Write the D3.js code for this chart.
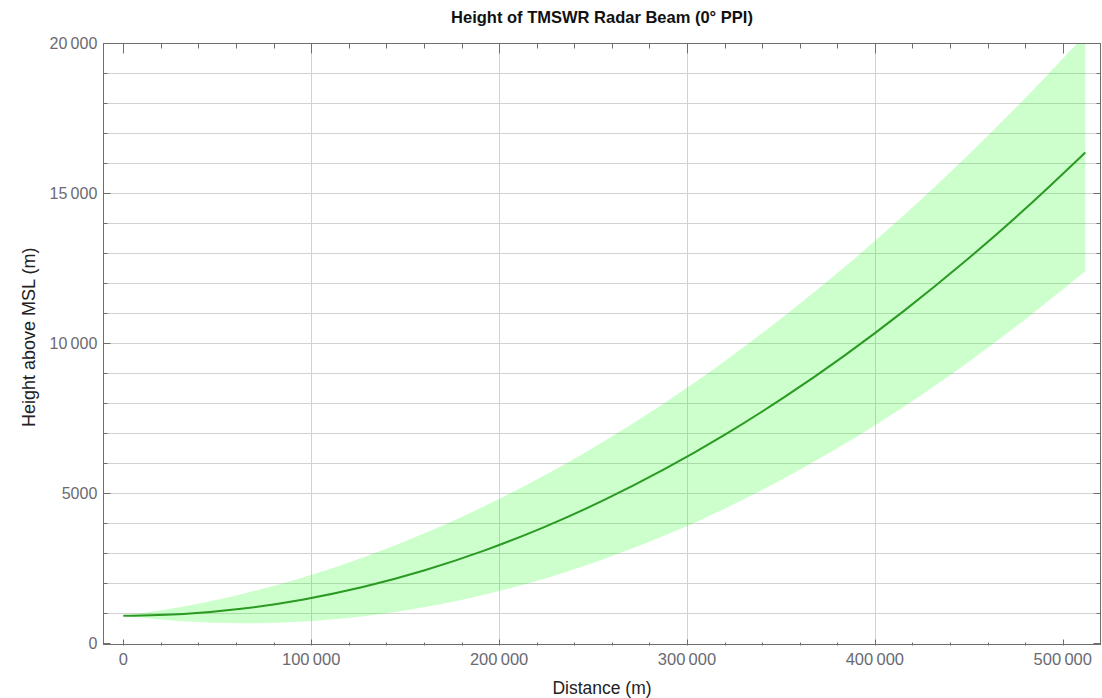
<!DOCTYPE html>
<html>
<head>
<meta charset="utf-8">
<script src="https://cdn.jsdelivr.net/npm/d3@7/dist/d3.min.js"></script>
<style>
  body { margin: 0; background: #fff; }
  svg { display: block; font-family: "Liberation Sans", Arial, sans-serif; }
</style>
</head>
<body>
<svg id="chart" width="1102" height="698"></svg>
<script>
// distance along the beam (m)
var distances = [0, 32000, 64000, 96000, 128000, 160000, 192000, 224000, 256000,
  288000, 320000, 352000, 384000, 416000, 448000, 480000, 512000];

// beam centre height (m)
var centreHeights = [920, 980, 1161, 1463, 1884, 2427, 3090, 3873, 4778,
  5802, 6947, 8213, 9599, 11106, 12734, 14482, 16360];

// top and bottom edge of the beam (m)
var upperHeights = [920, 1226, 1653, 2200, 2867, 3656, 4565, 5593, 6744,
  8014, 9405, 10916, 12548, 14301, 16175, 18168, 20290];
var lowerHeights = [920, 734, 669, 726, 901, 1198, 1615, 2153, 2812,
  3590, 4489, 5510, 6650, 7911, 9293, 10796, 12400];

var xTicks = [0, 100000, 200000, 300000, 400000, 500000];
var yTicks = [0, 5000, 10000, 15000, 20000];

var beam = distances.map(function(d, i){
  return {r: d, mid: centreHeights[i], hi: upperHeights[i], lo: lowerHeights[i]};
});

var svg = d3.select("#chart");

// frame goes a little past the data on both ends, like the original
var x = d3.scaleLinear().domain([-10640, 520400]).range([103.3, 1101.1]);
var y = d3.scaleLinear().domain([-40, 20000]).range([644.5, 43.3]);

//note: "top" is taken by window.top, so use plot* names
var plotLeft = x.range()[0], plotRight = x.range()[1];
var plotTop = y.range()[1], plotBottom = y.range()[0];

//space digits in groups of three, "100 000", but leave 4 digit numbers alone
function groupDigits(v){
  var s = String(v);
  if (s.length < 5) return s;
  return s.replace(/\B(?=(\d{3})+(?!\d))/g, "\u2009");
}

svg.append("clipPath").attr("id", "plotclip")
  .append("rect")
  .attr("x", plotLeft).attr("y", plotTop)
  .attr("width", plotRight - plotLeft).attr("height", plotBottom - plotTop);

//grid lines
var grid = svg.append("g").attr("stroke", "#d2d2d2").attr("stroke-width", 1);

grid.selectAll(".hgrid")
  .data(d3.range(1000, 20000, 1000))
  .enter().append("line")
  .attr("x1", plotLeft).attr("x2", plotRight)
  .attr("y1", function(d){ return Math.round(y(d)) + 0.5; })
  .attr("y2", function(d){ return Math.round(y(d)) + 0.5; });

grid.selectAll(".vgrid")
  .data([100000, 200000, 300000, 400000])
  .enter().append("line")
  .attr("y1", plotTop).attr("y2", plotBottom)
  .attr("x1", function(d){ return Math.round(x(d)) + 0.5; })
  .attr("x2", function(d){ return Math.round(x(d)) + 0.5; });

//beam band and centre line
var plot = svg.append("g").attr("clip-path", "url(#plotclip)");

var band = d3.area()
  .x(function(d){ return x(d.r); })
  .y0(function(d){ return y(d.lo); })
  .y1(function(d){ return y(d.hi); })
  .curve(d3.curveCatmullRom);

plot.append("path")
  .datum(beam)
  .attr("d", band)
  .attr("fill", "#00ff00")
  .attr("fill-opacity", 0.2);

var centreLine = d3.line()
  .x(function(d){ return x(d.r); })
  .y(function(d){ return y(d.mid); })
  .curve(d3.curveCatmullRom);

plot.append("path")
  .datum(beam)
  .attr("d", centreLine)
  .attr("fill", "none")
  .attr("stroke", "#2a9a22")
  .attr("stroke-width", 2);

//frame with inward ticks
var frame = svg.append("g").attr("stroke", "#6e6e6e").attr("stroke-width", 1);

frame.append("rect")
  .attr("x", Math.round(plotLeft) + 0.5).attr("y", Math.round(plotTop) + 0.5)
  .attr("width", Math.round(plotRight - plotLeft) - 1)
  .attr("height", Math.round(plotBottom - plotTop))
  .attr("fill", "none");

var xMinor = d3.range(0, 520000, 20000);
var yMinor = d3.range(0, 20001, 1000);

function xTickLines(cls, yBase, dir){
  frame.selectAll("." + cls)
    .data(xMinor)
    .enter().append("line")
    .attr("class", cls)
    .attr("x1", function(d){ return Math.round(x(d)) + 0.5; })
    .attr("x2", function(d){ return Math.round(x(d)) + 0.5; })
    .attr("y1", yBase)
    .attr("y2", function(d){
      var len = (d % 100000 === 0) ? (dir > 0 ? 10 : 6) : (dir > 0 ? 5 : 3);
      return yBase + dir * len;
    });
}
xTickLines("xtop", Math.round(plotTop) + 0.5, 1);
xTickLines("xbot", Math.round(plotBottom) + 0.5, -1);

function yTickLines(cls, xBase, dir){
  frame.selectAll("." + cls)
    .data(yMinor)
    .enter().append("line")
    .attr("class", cls)
    .attr("y1", function(d){ return Math.round(y(d)) + 0.5; })
    .attr("y2", function(d){ return Math.round(y(d)) + 0.5; })
    .attr("x1", xBase)
    .attr("x2", function(d){
      return xBase + dir * ((d % 5000 === 0) ? 7 : 4);
    });
}
yTickLines("yleft", Math.round(plotLeft) + 0.5, 1);
yTickLines("yright", Math.round(plotRight) - 0.5, -1);

//tick labels
svg.append("g")
  .selectAll("text")
  .data(yTicks)
  .enter().append("text")
  .attr("x", plotLeft - 6)
  .attr("y", function(d){ return y(d); })
  .attr("dy", "0.35em")
  .attr("text-anchor", "end")
  .attr("font-size", 16)
  .attr("fill", "#6a6a72")
  .text(groupDigits);

svg.append("g")
  .selectAll("text")
  .data(xTicks)
  .enter().append("text")
  .attr("x", function(d){ return x(d); })
  .attr("y", 665)
  .attr("text-anchor", "middle")
  .attr("font-size", 16.5)
  .attr("fill", "#6a6a72")
  .text(groupDigits);

//titles
svg.append("text")
  .attr("x", 602).attr("y", 23)
  .attr("text-anchor", "middle")
  .attr("font-size", 16.5)
  .attr("font-weight", "bold")
  .attr("fill", "#111")
  .text("Height of TMSWR Radar Beam (0\u00b0 PPI)");

svg.append("text")
  .attr("x", 602).attr("y", 694)
  .attr("text-anchor", "middle")
  .attr("font-size", 17.5)
  .attr("fill", "#222")
  .text("Distance (m)");

svg.append("text")
  .attr("transform", "translate(35, 427) rotate(-90)")
  .attr("text-anchor", "start")
  .attr("font-size", 18)
  .attr("fill", "#222")
  .text("Height above MSL (m)");
</script>
</body>
</html>
